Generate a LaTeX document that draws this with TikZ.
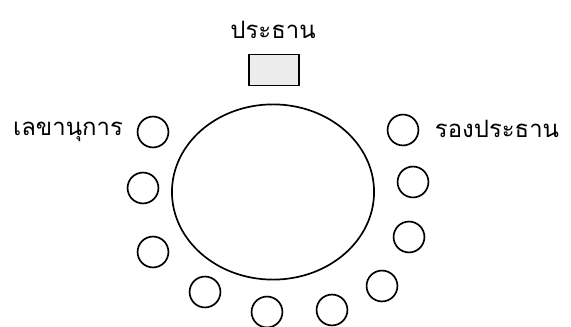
\documentclass[tikz,border=0pt]{standalone}
\usepackage{fontspec}
\usetikzlibrary{shapes.geometric}
\newfontfamily\thaifont[Script=Thai]{Loma}
\tikzset{
	seat/.style={draw, circle, minimum size=31*0.708pt, inner sep=0pt, very thick},
	title/.style={font=\thaifont\fontsize{17}{20}\selectfont, inner sep=0pt}
}

\begin{document}
\begin{tikzpicture}[x=0.025cm, y=-0.025cm]
		% one unit = one pixel of the 571 x 327 sketch, y goes down
		\useasboundingbox (0, 0) rectangle (571, 327);
		% the table
		\node[draw, ellipse, very thick, minimum width=203*0.708pt, minimum height=176*0.708pt, inner sep=0pt] (table) at (273, 192) {};
		% chair of the president
		\node[draw, very thick, fill=gray!15, minimum width=50*0.708pt, minimum height=31*0.708pt, inner sep=0pt] (chair) at (274, 70) {};
		\node[title] (president) at (273, 30) {ประธาน};
		% the seats round the table
		\foreach \name/\x/\y in {s1/153/132, s2/143/188, s3/153/252, s4/205/292, s5/267/312,
			s6/332/310, s7/382/286, s8/409/237, s9/413/182, s10/403/130}
			\node[seat] (\name) at (\x, \y) {};
		\node[title] (secretary) at (68, 132) {เลขานุการ};
		\node[title] (vice) at (497, 129) {รองประธาน};
	\end{tikzpicture}
\end{document}
